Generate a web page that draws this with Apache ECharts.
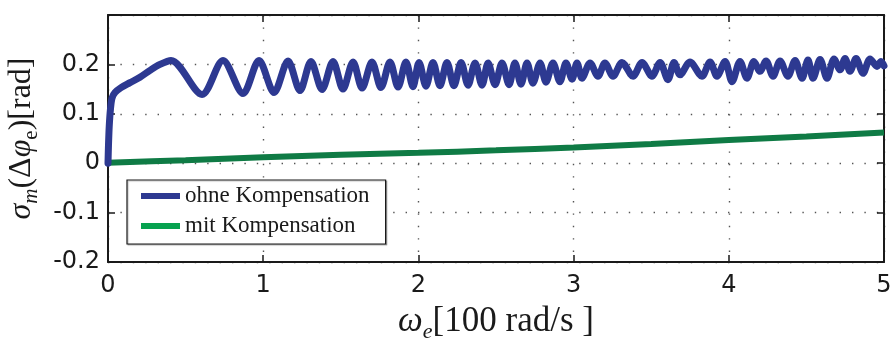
<!DOCTYPE html>
<html>
<head>
<meta charset="utf-8">
<script src="https://cdn.jsdelivr.net/npm/echarts@6/dist/echarts.min.js"></script>
<style>
  html, body { margin: 0; padding: 0; background: #ffffff; }
  #chart { width: 890px; height: 338px; }
</style>
</head>
<body>
<div id="chart"></div>
<script>
// ω_e in units of 100 rad/s, σ_m(Δφ_e) in rad
const seriesNames = ['ohne Kompensation', 'mit Kompensation'];

const omegaOhne = [
  0, 0.003, 0.008, 0.016, 0.026, 0.045, 0.084, 0.142, 0.206, 0.271, 0.335, 0.406,
  0.606, 0.741, 0.870, 0.973, 1.070, 1.160, 1.237, 1.308, 1.379, 1.450,
  1.514, 1.579, 1.637, 1.701, 1.759, 1.817, 1.869, 1.920, 1.965, 2.004,
  2.049, 2.094, 2.139, 2.184, 2.229, 2.275, 2.320, 2.365, 2.410, 2.449,
  2.494, 2.539, 2.584, 2.622, 2.661, 2.700, 2.738, 2.784, 2.822, 2.867,
  2.912, 2.951, 2.990, 3.022, 3.054, 3.106, 3.157, 3.202, 3.254, 3.312,
  3.383, 3.441, 3.505, 3.557, 3.608, 3.647, 3.686, 3.750, 3.827, 3.879,
  3.924, 3.976, 4.021, 4.072, 4.117, 4.162, 4.201, 4.240, 4.285, 4.330,
  4.381, 4.427, 4.472, 4.510, 4.543, 4.588, 4.633, 4.678, 4.717, 4.749,
  4.781, 4.820, 4.865, 4.910, 4.955, 4.981, 5.0
];
const sigmaOhne = [
  0, 0.035, 0.075, 0.110, 0.132, 0.143, 0.153, 0.163, 0.174, 0.188, 0.200, 0.208,
  0.139, 0.208, 0.141, 0.208, 0.143, 0.207, 0.147, 0.206, 0.149, 0.206,
  0.150, 0.205, 0.152, 0.205, 0.153, 0.205, 0.154, 0.205, 0.155, 0.204,
  0.156, 0.204, 0.157, 0.204, 0.157, 0.204, 0.158, 0.203, 0.158, 0.203,
  0.159, 0.203, 0.159, 0.203, 0.160, 0.203, 0.162, 0.203, 0.164, 0.203,
  0.165, 0.203, 0.170, 0.203, 0.172, 0.203, 0.176, 0.203, 0.176, 0.204,
  0.176, 0.204, 0.176, 0.204, 0.169, 0.204, 0.179, 0.205, 0.176, 0.205,
  0.176, 0.206, 0.165, 0.206, 0.172, 0.206, 0.186, 0.207, 0.176, 0.207,
  0.176, 0.208, 0.172, 0.209, 0.172, 0.210, 0.172, 0.211, 0.189, 0.212,
  0.186, 0.212, 0.182, 0.211, 0.196, 0.206, 0.197
];

const omegaMit = [0, 0.5, 1, 1.5, 2, 2.5, 3, 3.5, 4, 4.5, 5];
const sigmaMit = [0.001, 0.006, 0.012, 0.017, 0.021, 0.026, 0.032, 0.039, 0.047, 0.054, 0.062];

const xTicks = [0, 1, 2, 3, 4, 5];
const yTicks = [-0.2, -0.1, 0, 0.1, 0.2];

const pairs = (xs, ys) => xs.map((x, i) => [x, ys[i]]);

const INK = '#1a1a1a';
const BLUE = '#2d3991';
const GREEN_LINE = '#0f7b45';
const GREEN_KEY = '#06a24f';
const SANS = '"DejaVu Sans", "Liberation Sans", Arial, sans-serif';
const SERIF = '"Liberation Serif", "Times New Roman", serif';

const makeRich = (big, small, lh) => ({
  i: { fontFamily: SERIF, fontStyle: 'italic', fontSize: big, lineHeight: lh, color: INK },
  n: { fontFamily: SERIF, fontSize: big, lineHeight: lh, color: INK },
  s: { fontFamily: SERIF, fontStyle: 'italic', fontSize: small, lineHeight: small, verticalAlign: 'bottom', color: INK },
  u: { fontFamily: SERIF, fontSize: small, lineHeight: small, verticalAlign: 'bottom', color: INK }
});

const frameLine = { show: true, onZero: false, lineStyle: { color: INK, width: 2 } };
const innerTick = { show: true, inside: true, length: 7, lineStyle: { color: INK, width: 1.5 } };
const dotted = { show: true, lineStyle: { color: '#555', width: 1.4, type: [1.4, 11] } };

const xMin = xTicks[0], xMax = xTicks[xTicks.length - 1];
const yMin = yTicks[0], yMax = 0.3, yStep = 0.1;

const fmtY = v => {
  const r = Math.round(v * 10) / 10;
  return yTicks.some(t => Math.abs(t - r) < 1e-9) ? String(r) : '';
};

const chart = echarts.init(document.getElementById('chart'), null, { renderer: 'canvas' });
chart.setOption({
  animation: false,
  backgroundColor: '#ffffff',
  grid: { left: 108, right: 6, top: 15, bottom: 76, containLabel: false, outerBoundsMode: 'none' },
  xAxis: [
    {
      type: 'value', position: 'bottom', min: xMin, max: xMax, interval: 1,
      axisLine: frameLine, axisTick: innerTick, splitLine: dotted,
      axisLabel: { margin: 12, fontFamily: SANS, fontSize: 24, color: INK },
      name: '{i|ω}{s|e}{n|[100 rad/s ]}',
      nameLocation: 'middle', nameGap: 39,
      nameTextStyle: { rich: makeRich(35, 22, 42) }
    },
    {
      type: 'value', position: 'top', min: xMin, max: xMax, interval: 1,
      axisLine: frameLine, axisTick: innerTick, splitLine: { show: false },
      axisLabel: { show: false }
    }
  ],
  yAxis: [
    {
      type: 'value', position: 'left', min: yMin, max: yMax, interval: yStep,
      axisLine: frameLine, axisTick: innerTick, splitLine: dotted,
      axisLabel: { margin: 8, fontFamily: SANS, fontSize: 24, color: INK, formatter: fmtY },
      name: '{i|σ}{s|m}{n|(Δ}{i|φ}{u|e}{n|)[rad]}',
      nameLocation: 'middle', nameGap: 55,
      nameTextStyle: { rich: makeRich(32, 21, 41) }
    },
    {
      type: 'value', position: 'right', min: yMin, max: yMax, interval: yStep,
      axisLine: frameLine, axisTick: innerTick, splitLine: { show: false },
      axisLabel: { show: false }
    }
  ],
  legend: {
    orient: 'vertical', left: 127, top: 180,
    padding: [4, 16, 6, 14], itemGap: 6,
    icon: 'rect', itemWidth: 39, itemHeight: 6,
    backgroundColor: '#ffffff', borderColor: INK, borderWidth: 1.2, borderRadius: 0,
    shadowColor: 'rgba(0,0,0,0.25)', shadowOffsetX: 1, shadowOffsetY: 1, shadowBlur: 1,
    textStyle: { fontFamily: SERIF, fontSize: 23, lineHeight: 24, color: INK },
    selectedMode: false,
    data: [
      { name: seriesNames[0], itemStyle: { color: BLUE } },
      { name: seriesNames[1], itemStyle: { color: GREEN_KEY } }
    ]
  },
  series: [
    {
      name: seriesNames[0], type: 'line', xAxisIndex: 0, yAxisIndex: 0,
      data: pairs(omegaOhne, sigmaOhne),
      showSymbol: false, smooth: 0.3,
      lineStyle: { color: BLUE, width: 7, cap: 'round', join: 'round' },
      itemStyle: { color: BLUE }, z: 3
    },
    {
      name: seriesNames[1], type: 'line', xAxisIndex: 0, yAxisIndex: 0,
      data: pairs(omegaMit, sigmaMit),
      showSymbol: false, smooth: 0.3,
      lineStyle: { color: GREEN_LINE, width: 6, cap: 'butt' },
      itemStyle: { color: GREEN_LINE }, z: 2
    }
  ]
});
</script>
</body>
</html>
